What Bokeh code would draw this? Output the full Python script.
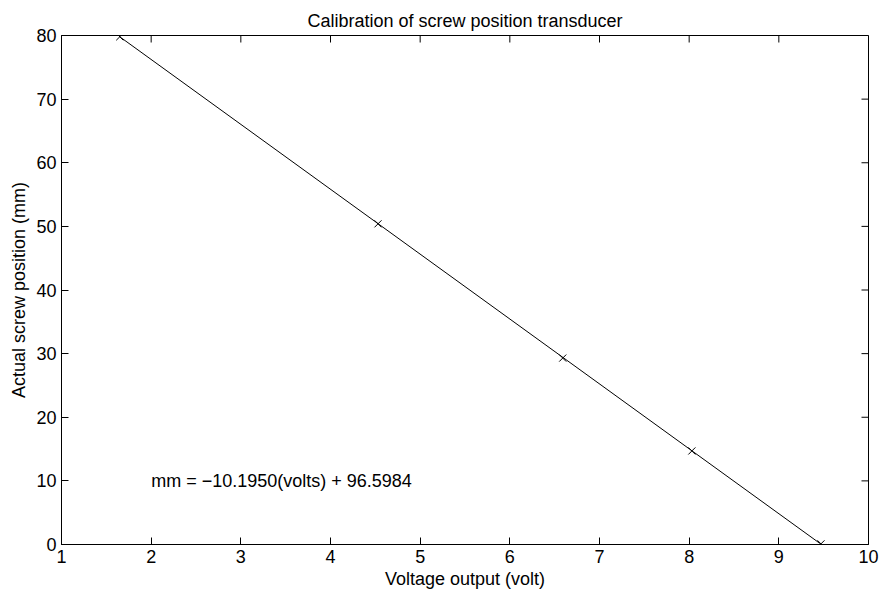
import math
from bokeh.plotting import figure
from bokeh.models import FixedTicker, Range1d, Label
from bokeh.embed import file_html
from bokeh.resources import INLINE

# data
volts = [1.65, 4.53, 6.59, 8.03, 9.47]
mm = [79.8, 50.4, 29.3, 14.7, 0.1]
fit_x = [1.65, 9.47]
fit_y = [79.8, 0.05]
x_ticks = [1, 2, 3, 4, 5, 6, 7, 8, 9, 10]
y_ticks = [0, 10, 20, 30, 40, 50, 60, 70, 80]
equation = "mm = \u221210.1950(volts) + 96.5984"
eq_pos = (2.0, 10.0)

FONT = "Liberation Sans"
FS = "18px"
TICK = 7

x_lo, x_hi = x_ticks[0], x_ticks[-1]
y_lo, y_hi = y_ticks[0], y_ticks[-1]

p = figure(width=881, height=597, output_backend="svg", toolbar_location=None,
           x_range=Range1d(x_lo, x_hi), y_range=Range1d(y_lo, y_hi),
           x_axis_label="Voltage output (volt)",
           y_axis_label="Actual screw position (mm)",
           title="Calibration of screw position transducer",
           min_border_left=61, min_border_right=13,
           min_border_top=35, min_border_bottom=53)

p.title.text_font = FONT
p.title.text_font_size = FS
p.title.text_font_style = "normal"
p.title.align = "center"
p.title.text_color = "black"
p.title.standoff = 10

p.xgrid.visible = False
p.ygrid.visible = False
p.outline_line_color = "black"
p.outline_line_width = 1
p.background_fill_color = "white"
p.border_fill_color = "white"

def style_axis(ax, ticks):
    ax.ticker = FixedTicker(ticks=ticks)
    ax.minor_tick_line_color = None
    ax.major_tick_in = TICK
    ax.major_tick_out = 0
    ax.axis_line_color = "black"
    ax.major_tick_line_color = "black"
    ax.axis_line_width = 1
    ax.major_label_text_font = FONT
    ax.major_label_text_color = "black"
    ax.major_label_text_font_size = FS
    ax.major_label_standoff = 5
    ax.axis_label_text_font = FONT
    ax.axis_label_text_font_size = FS
    ax.axis_label_text_font_style = "normal"
    ax.axis_label_text_color = "black"

style_axis(p.xaxis[0], x_ticks)
style_axis(p.yaxis[0], y_ticks)
p.xaxis[0].axis_label_standoff = 3
p.yaxis[0].axis_label_standoff = 4

# inward ticks on the top and right edges of the box
p.ray(x=x_ticks, y=[y_hi] * len(x_ticks), length=TICK, length_units="screen",
      angle=-math.pi / 2, line_color="black", line_width=1)
p.ray(x=[x_hi] * len(y_ticks), y=y_ticks, length=TICK, length_units="screen",
      angle=math.pi, line_color="black", line_width=1)

p.line(fit_x, fit_y, line_color="black", line_width=1)
p.scatter(volts, mm, marker="x", size=10, line_color="black", line_width=1)

p.add_layout(Label(x=eq_pos[0], y=eq_pos[1], text=equation,
                   text_font=FONT, text_font_size=FS, text_color="black",
                   text_align="left", text_baseline="middle"))

open("out.html", "w").write(file_html(p, INLINE))
